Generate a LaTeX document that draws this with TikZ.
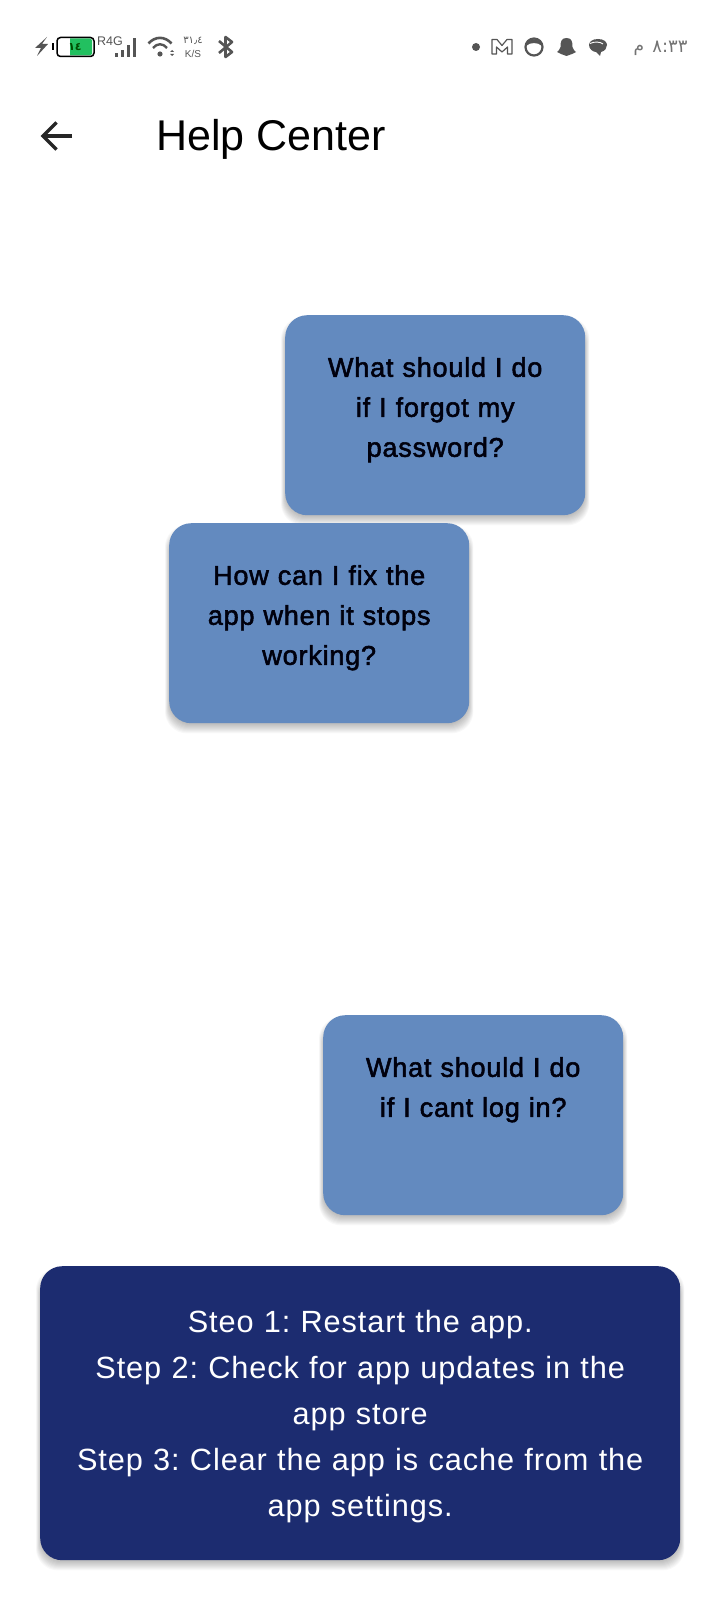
\documentclass[tikz,border=0pt]{standalone}
\usepackage{fontspec}
\setmainfont{Liberation Sans}
\newfontfamily\qfont[LetterSpace=3,FakeBold=2]{Liberation Sans}
\newfontfamily\stepfont[LetterSpace=3]{Liberation Sans}
\newfontfamily\arabicfont[Script=Arabic]{DejaVu Sans}
\TeXXeTstate=1
\usetikzlibrary{backgrounds, calc, positioning}
\definecolor{boxblue}{RGB}{99,138,191}
\definecolor{boxnavy}{RGB}{28,44,112}
\definecolor{statusgray}{RGB}{85,85,85}
\definecolor{batterygreen}{RGB}{34,192,96}

\begin{document}
\frenchspacing
\begin{tikzpicture}[x=1pt, y=-1pt, node distance=26pt]

%====Styles================================================

	\tikzstyle{question}=[draw=none, fill=boxblue, rounded corners=22pt, inner sep=0pt, minimum width=300pt, minimum height=200pt, anchor=north west]
	\tikzstyle{questiontext}=[inner sep=0pt, text width=280pt, align=center, text=black!95!blue, font=\fontsize{27}{40}\qfont]
	\tikzstyle{answer}=[draw=none, fill=boxnavy, rounded corners=22pt, inner sep=0pt, minimum width=640pt, minimum height=294pt, anchor=north west]
	\tikzstyle{answertext}=[inner sep=0pt, text width=620pt, align=center, text=white, font=\fontsize{30.7}{46}\stepfont]
	\tikzstyle{statustext}=[inner sep=0pt, text=statusgray]
	\tikzstyle{statusicon}=[draw=statusgray, line width=1.6pt, line join=round]

%====Page and shadows================================================

	\useasboundingbox (0,0) rectangle (720,1600);

	\node[question] (forgot) at (285,315) {};
	\node[question] (stops)  at (169,523) {};
	\node[question] (login)  at (323,1015) {};
	\node[answer]   (steps)  at (40,1266) {};

	\begin{pgfonlayer}{background}
		\fill[white] (0,0) rectangle (720,1600);
		\foreach \n in {forgot, stops, login, steps}
			\foreach \g in {1,...,10}
				\fill[black, opacity=0.028, rounded corners=22pt] ($(\n.north west)+(1-\g*0.5,12-\g)$) rectangle ($(\n.south east)+(\g*0.5-1,\g)$);
	\end{pgfonlayer}

%====Header================================================

	\node[inner sep=0pt, anchor=west, font=\fontsize{43}{50}\selectfont] (title) at (156,139) {Help Center};
	\coordinate (backtip) at (43,136);
	\coordinate (backend) at (72,136);
	\draw[line width=3.4pt, black!85] (backend) -- (backtip);
	\draw[line width=3.4pt, black!85, line join=miter] (56.5,122.5) -- (backtip) -- (56.5,149.5);

%====Questions and answer================================================

	\node[questiontext, below=42pt of forgot.north, anchor=north] (forgottext) {What should I do\\if I forgot my\\password?};
	\node[questiontext, below=42pt of stops.north, anchor=north]  (stopstext)  {How can I fix the\\app when it stops\\working?};
	\node[questiontext, below=42pt of login.north, anchor=north]  (logintext)  {What should I do\\if I cant log in?};
	\node[answertext, below=44pt of steps.north, anchor=north]    (stepstext)  {Steo 1: Restart the app.\\Step 2: Check for app updates in the\\app store\\Step 3: Clear the app is cache from the\\app settings.};

%====Status bar, left================================================

	\fill[statusgray] (47,37) -- (35,48) -- (41,48) -- (37,56) -- (48,44) -- (42,44) -- cycle;
	\fill[black] (52,43) rectangle (54,50);
	\fill[batterygreen] (70,38.5) -- (90,38.5) -- (92,40) -- (92,54) -- (90,55.5) -- (70,55.5) -- cycle;
	\draw[black, line width=1.5pt, rounded corners=3.5pt] (57,37.5) rectangle (94,56.5);
	\node[statustext, text=black!70!green, font=\fontsize{11}{12}\arabicfont\bfseries] (charge) at (75,47) {١٤};
	\node[statustext, font=\fontsize{12.5}{12}\selectfont] (network) at (110,41.5) {R4G};
	\foreach \bx/\bt in {116/53, 122/50, 128/45, 134/38}
		\fill[statusgray] (\bx-1.5,\bt) rectangle (\bx+1.5,57);
	\draw[statusicon, line width=2.6pt] (148.5,43.5) .. controls (155,36) and (165,36) .. (171.5,43.5);
	\draw[statusicon, line width=2.4pt] (153,48) .. controls (157,43) and (163,43) .. (167,48);
	\fill[statusgray] (160,54) circle (2.6);
	\fill[statusgray] (172,50) -- (174,52) -- (170,52) -- cycle (172,56) -- (174,54) -- (170,54) -- cycle;
	\node[statustext, font=\fontsize{10}{10}\arabicfont] (speed) at (193,40.5) {٣١٫٤};
	\node[statustext, font=\fontsize{10}{10}\selectfont] (speedunit) at (193,53.5) {K/S};
	\draw[statusicon, line width=2.6pt] (219,41) -- (232,52) -- (225.5,57) -- (225.5,37) -- (232,42) -- (219,53);

%====Status bar, right================================================

	\fill[statusgray] (476,47) circle (4);
	\draw[statusicon, line width=1.2pt] (492,54) -- (492,39.5) -- (497,39.5) -- (502,45.5) -- (507,39.5) -- (512,39.5) -- (512,54) -- (507.5,54) -- (507.5,47) -- (502,52) -- (496.5,47) -- (496.5,54) -- cycle;
	\draw[statusicon, line width=2.2pt] (534,47) circle (8.5);
	\fill[statusgray] (526,46) .. controls (528,37) and (540,37) .. (542,46) .. controls (538,42) and (530,42) .. (526,46) -- cycle;
	\fill[statusgray] (566.5,38) .. controls (561,38) and (560.5,42) .. (560.5,47) .. controls (560,50) and (558,51) .. (557,52) -- (561,54) -- (566.5,56) -- (572,54) -- (576,52) .. controls (575,51) and (573,50) .. (572.5,47) .. controls (572.5,42) and (572,38) .. (566.5,38) -- cycle;
	\fill[statusgray] (598,39) .. controls (592,39) and (589,42) .. (589,45) .. controls (589,49) and (593,52) .. (596,52) -- (600,56) -- (601,52) .. controls (605,51) and (607,48) .. (607,45) .. controls (607,42) and (604,39) .. (598,39) -- cycle;
	\draw[white, line width=0.9pt] (590,43.5) .. controls (594,41.5) and (600,41.5) .. (603,44);
	\node[statustext, text=black!55, font=\fontsize{18}{18}\arabicfont] (minutes) at (670,47) {٨:٣٣};
	\node[statustext, text=black!55, font=\fontsize{17}{18}\arabicfont] (ampm) at (639,50) {\beginR م\endR};

\end{tikzpicture}
\end{document}
